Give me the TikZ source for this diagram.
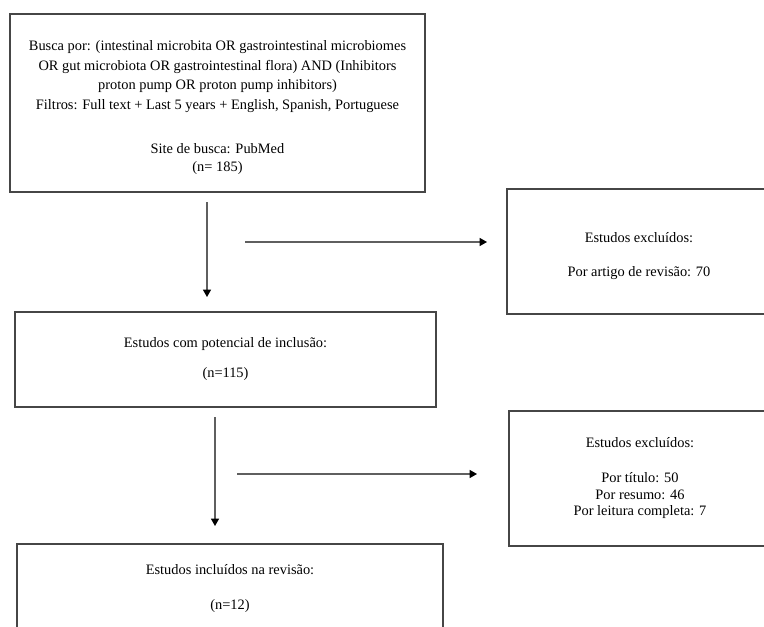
\documentclass[tikz,border=0pt]{standalone}
\usepackage{fontspec}
\setmainfont{Liberation Serif}
\usepackage{tikz}
\usetikzlibrary{arrows.meta, positioning}
\definecolor{boxgray}{RGB}{70,70,70}
\definecolor{arrowgray}{RGB}{95,95,95}
\newcommand{\toppad}{\rule{0pt}{14.1pt}}
\tikzset{
  box/.style={rectangle,draw=boxgray,line width=1.1pt,align=center,inner sep=0pt,
    font=\fontsize{10.8}{14}\selectfont},
  arrow/.style={-{Triangle[length=5.5pt,width=6pt,color=black]},line width=0.95pt,color=arrowgray}
}

\begin{document}
\begin{tikzpicture}[x=0.75pt,y=-0.75pt]
  \useasboundingbox (0,0) rectangle (764,626);
  \clip (0,0) rectangle (764,626);

  % ── Search box ───────────────────────────────────────────────────────────
  \node[box, minimum width=311pt, minimum height=133.5pt] (busca) at (217.5,103)
    {\toppad Busca por: (intestinal microbita OR gastrointestinal microbiomes\\[1.1pt]
     OR gut microbiota OR gastrointestinal flora) AND (Inhibitors\\[0pt]
     proton pump OR proton pump inhibitors)\\[1.2pt]
     Filtros: Full text + Last 5 years + English, Spanish, Portuguese\\[19pt]
     Site de busca: PubMed\\[-1pt]
     (n= 185)};

  % ── Excluded (review articles) ───────────────────────────────────────────
  \node[box, minimum width=198pt, minimum height=93.75pt] (excl1) at (639,251.5)
    {\toppad Estudos excluídos:\\[11.5pt]
     Por artigo de revisão: 70};

  % ── Potential inclusion ──────────────────────────────────────────────────
  \node[box, minimum width=315.75pt, minimum height=71.25pt] (potencial) at (225.5,359.5)
    {Estudos com potencial de inclusão:\\[8.5pt]
     (n=115)};

  % ── Excluded (screening) ─────────────────────────────────────────────────
  \node[box, minimum width=196.5pt, minimum height=101.25pt] (excl2) at (640,478.5)
    {Estudos excluídos:\\[12pt]
     Por título: 50\\[-1.5pt]
     Por resumo: 46\\[-1.5pt]
     Por leitura completa: 7};

  % ── Included ─────────────────────────────────────────────────────────────
  \node[box, minimum width=319.5pt, minimum height=66.75pt] (incluidos) at (230,588.5)
    {Estudos incluídos na revisão:\\[12pt]
     (n=12)};

  % ── Arrows (free-standing, as in the original) ───────────────────────────
  \coordinate (v1a) at (207,202);
  \coordinate (v1b) at (207,297);
  \coordinate (h1a) at (245,242);
  \coordinate (h1b) at (487,242);
  \coordinate (v2a) at (215,417);
  \coordinate (v2b) at (215,526);
  \coordinate (h2a) at (237,474);
  \coordinate (h2b) at (477,474);
  \draw[arrow] (v1a) -- (v1b);
  \draw[arrow] (h1a) -- (h1b);
  \draw[arrow] (v2a) -- (v2b);
  \draw[arrow] (h2a) -- (h2b);
\end{tikzpicture}
\end{document}
